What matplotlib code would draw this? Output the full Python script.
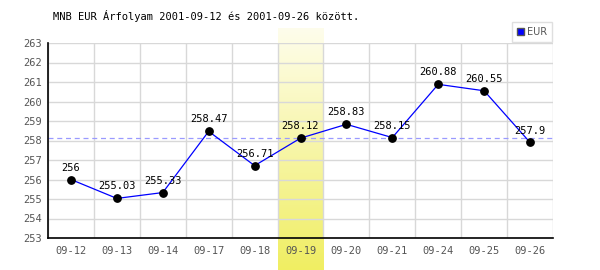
import numpy as np
import matplotlib
matplotlib.use("Agg")
import matplotlib.pyplot as plt
from matplotlib.colors import LinearSegmentedColormap

# Data
dates = ["09-12", "09-13", "09-14", "09-17", "09-18", "09-19",
         "09-20", "09-21", "09-24", "09-25", "09-26"]
rates = [256.0, 255.03, 255.33, 258.47, 256.71, 258.12,
         258.83, 258.15, 260.88, 260.55, 257.9]
labels = ["256", "255.03", "255.33", "258.47", "256.71", "258.12",
          "258.83", "258.15", "260.88", "260.55", "257.9"]
highlight = "09-19"
ref_rate = 258.12
y_min, y_max = 253, 263
title = "MNB EUR Árfolyam 2001-09-12 és 2001-09-26 között."

mono = "DejaVu Sans Mono"

fig = plt.figure(figsize=(6, 2.7), dpi=100)
ax = fig.add_axes([48 / 600, 32 / 270, 505 / 600, 195 / 270])

x = np.arange(len(dates))
ax.set_xlim(-0.5, len(dates) - 0.5)
ax.set_ylim(y_min, y_max)

# highlighted day: yellow gradient column that runs past the axes
hi = dates.index(highlight)
cmap = LinearSegmentedColormap.from_list("hl", ["#fefdec", "#f0ee62"])
grad = np.linspace(0, 1, 256).reshape(-1, 1)
band = ax.imshow(grad, cmap=cmap, aspect="auto", origin="upper",
                 extent=(hi - 0.5, hi + 0.5, 251.36, 263.75),
                 zorder=0, clip_on=False)

# grid
ax.set_yticks(np.arange(y_min, y_max + 1))
ax.set_xticks(x)
ax.set_xticks(np.arange(len(dates) + 1) - 0.5, minor=True)
ax.grid(True, axis="y", which="major", color="#d8d8d8", lw=1, zorder=1)
ax.grid(True, axis="x", which="minor", color="#d8d8d8", lw=1, zorder=1)
ax.tick_params(which="both", length=0)
ax.set_xticklabels(dates, fontsize=7.5, family=mono, color="#555555")
ax.set_yticklabels([str(v) for v in range(y_min, y_max + 1)],
                   fontsize=7.5, family=mono, color="#555555")
ax.tick_params(axis="x", pad=6)
ax.tick_params(axis="y", pad=4)

for side in ["top", "right"]:
    ax.spines[side].set_visible(False)
ax.spines["left"].set_linewidth(1.2)
ax.spines["bottom"].set_linewidth(1.2)
ax.set_facecolor("none")

# reference line
ax.axhline(ref_rate, color="#9a9aff", lw=0.9, ls=(0, (4, 3)), zorder=2)

# series
ax.plot(x, rates, color="#0000ff", lw=0.9, zorder=3)
ax.scatter(x, rates, s=28, color="black", zorder=4)
for xi, yi, lab in zip(x, rates, labels):
    ax.annotate(lab, (xi, yi), xytext=(0, 5), textcoords="offset points",
                ha="center", va="bottom", fontsize=7.5, family=mono,
                color="black", zorder=5)

fig.text(53 / 600, 1 - 16 / 270, title, fontsize=7.5, family=mono,
         va="center", ha="left", color="black")

# legend box
leg = ax.legend(handles=[plt.Rectangle((0, 0), 1, 1, fc="#0000ff", ec="#555555")],
                labels=["EUR"], loc="lower right", bbox_to_anchor=(1.0, 1.0),
                frameon=True, fontsize=7, handlelength=0.7, handleheight=0.7,
                handletextpad=0.3, borderpad=0.5, borderaxespad=0.1,
                fancybox=False, edgecolor="#d8d8d8", prop={"family": "DejaVu Sans", "size": 7})
leg.get_frame().set_linewidth(1)
for t in leg.get_texts():
    t.set_color("#555555")

fig.savefig("out.png", dpi=100)
